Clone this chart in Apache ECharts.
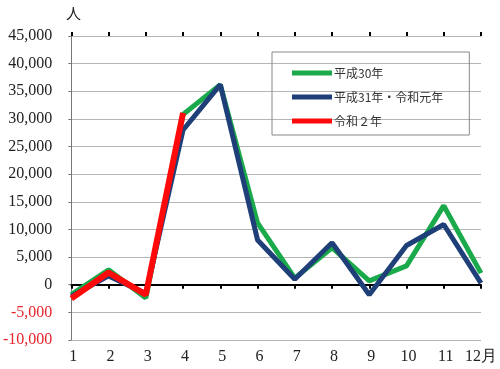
<!DOCTYPE html>
<html><head><meta charset="utf-8">
<script src="https://cdn.jsdelivr.net/npm/echarts@6/dist/echarts.min.js"></script>
<style>html,body{margin:0;padding:0;background:#fff}#c{width:500px;height:369px}</style>
</head><body><div id="c"></div>
<script>
const months = ['1','2','3','4','5','6','7','8','9','10','11','12月'];
const yTicks = [-10000, 45000, 5000];
const seriesNames = ['平成30年', '平成31年・令和元年', '令和２年'];
const h30 = [-1800, 2700, -2400, 30800, 36200, 11200, 1200, 6700, 700, 3400, 14300, 2100];
const r1 = [-2100, 1600, -1600, 28000, 36200, 8100, 1000, 7600, -1800, 7100, 10900, 300];
const r2 = [-2500, 2200, -1800, 31100];
const colors = ['#1aaa4b', '#1f3f78', '#ff0a0a'];

const chart = echarts.init(document.getElementById('c'));
const serif = 'Liberation Serif';
chart.setOption({
  animation: false,
  grid: {left: 71, right: 15, top: 36, bottom: 29},
  graphic: [{type: 'text', left: 66, top: 6, style: {text: '人', font: '15px "Noto Sans CJK JP"', fill: '#222'}}],
  legend: {
    orient: 'vertical', left: 272, top: 52,
    padding: [15, 26, 8, 20], itemGap: 12,
    borderColor: '#888', borderWidth: 1,
    icon: 'rect', itemWidth: 40, itemHeight: 5,
    textStyle: {fontFamily: 'Noto Sans CJK JP', fontSize: 12, color: '#333', padding: [0,0,0,-3]},
    data: seriesNames
  },
  xAxis: [
    {type: 'category', data: months, boundaryGap: false, position: 'bottom',
     axisLine: {onZero: false, show: false}, axisTick: {show: false},
     axisLabel: {interval: 0, fontFamily: serif, fontSize: 16, color: '#222', margin: 9,
       formatter: (v, i) => (i < 11 ? ' ' + v : v)}},
    {type: 'category', data: months, boundaryGap: false, position: 'bottom',
     axisLine: {onZero: true, lineStyle: {color: '#000', width: 2}},
     axisTick: {show: true, length: 4, interval: 0, lineStyle: {color: '#000', width: 2}},
     axisLabel: {show: false}},
    {type: 'category', data: months, boundaryGap: false, position: 'top',
     axisLine: {onZero: true, show: false},
     axisTick: {show: true, length: 4, interval: 0, lineStyle: {color: '#000', width: 2}},
     axisLabel: {show: false}}
  ],
  yAxis: {
    type: 'value', min: yTicks[0], max: yTicks[1], interval: yTicks[2],
    axisLine: {show: true, lineStyle: {color: '#777', width: 1}},
    axisTick: {show: true, length: 3, lineStyle: {color: '#777'}},
    splitLine: {lineStyle: {color: '#b5b5b5', width: 1}},
    axisLabel: {fontFamily: serif, fontSize: 16, margin: 19,
      color: v => (v < 0 ? '#e8242c' : '#222'),
      formatter: v => v.toLocaleString('en-US')}
  },
  series: [
    {name: seriesNames[0], type: 'line', data: h30, showSymbol: false, symbol: 'none', lineStyle: {width: 5, color: colors[0]}, itemStyle: {color: colors[0]}},
    {name: seriesNames[1], type: 'line', data: r1, showSymbol: false, symbol: 'none', lineStyle: {width: 5, color: colors[1]}, itemStyle: {color: colors[1]}},
    {name: seriesNames[2], type: 'line', data: r2, showSymbol: false, symbol: 'none', lineStyle: {width: 6, color: colors[2]}, itemStyle: {color: colors[2]}}
  ]
});
</script></body></html>
